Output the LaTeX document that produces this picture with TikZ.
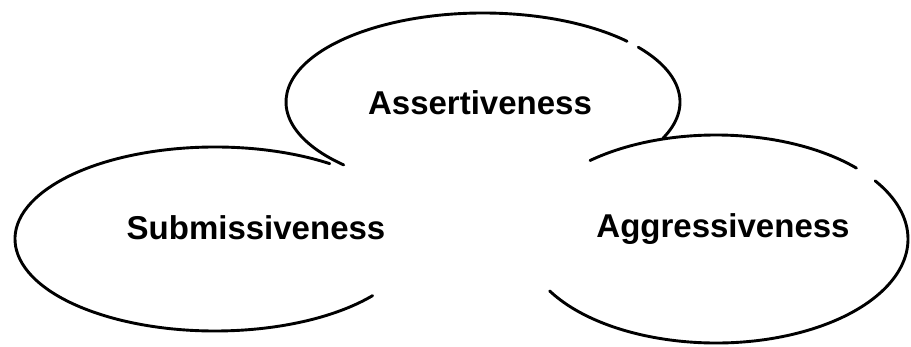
\documentclass[tikz,border=0pt]{standalone}
\usepackage{fontspec}
\setmainfont{Liberation Sans}
\begin{document}
\begin{tikzpicture}[x=1pt,y=1pt,
  outline/.style={line width=2.9pt,black,line cap=round},
  label/.style={font=\fontsize{33}{40}\selectfont\bfseries,anchor=base,inner sep=0pt}]
\useasboundingbox[fill=white] (0,0) rectangle (911,-347);
% centres
\coordinate (cT) at (483,-102);
\coordinate (cL) at (215,-239);
\coordinate (cR) at (716,-239);
% top bubble
\draw[outline] ([shift={(43:197pt and 89pt)}]cT) arc[start angle=43,end angle=225,x radius=197pt,y radius=89pt];
\draw[outline] ([shift={(336:197pt and 89pt)}]cT) arc[start angle=336,end angle=398,x radius=197pt,y radius=89pt];
% left bubble
\draw[outline] ([shift={(55:200pt and 92pt)}]cL) arc[start angle=55,end angle=322,x radius=200pt,y radius=92pt];
% right bubble
\draw[outline] ([shift={(210:192pt and 104pt)}]cR) arc[start angle=210,end angle=394,x radius=192pt,y radius=104pt];
\draw[outline] ([shift={(43:192pt and 104pt)}]cR) arc[start angle=43,end angle=131,x radius=192pt,y radius=104pt];
% labels
\node[label] (assert) at (480,-115) {Assertiveness};
\node[label] (submit) at (256,-240) {Submissiveness};
\node[label] (aggress) at (723,-238) {Aggressiveness};
\end{tikzpicture}
\end{document}
